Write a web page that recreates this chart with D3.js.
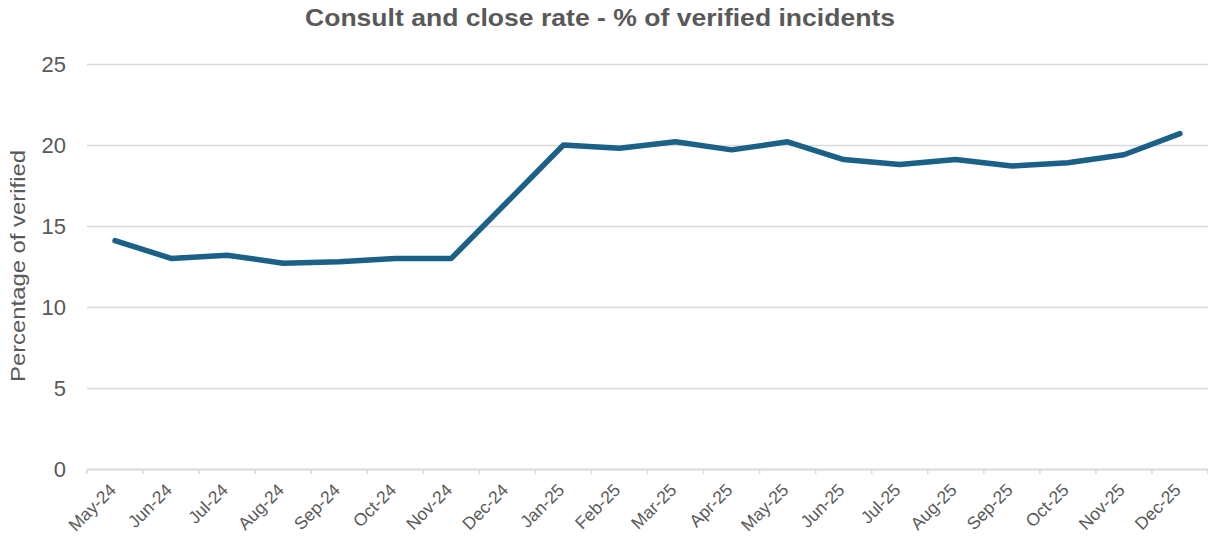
<!DOCTYPE html>
<html lang="en">
<head>
    <meta charset="UTF-8">
    <title>Consult and close rate</title>
    <style>
        body { margin: 0; background: #fff; }
        text { font-family: "Liberation Sans", Arial, sans-serif; fill: #595959; }
        .grid line { stroke: #d9d9d9; stroke-width: 1.3; }
        .grid path { display: none; }
    </style>
    <script src="https://cdn.jsdelivr.net/npm/d3@7/dist/d3.min.js"></script>
</head>
<body>
<svg class="chart" width="1208" height="539"></svg>
<script>
    const months = ['May-24', 'Jun-24', 'Jul-24', 'Aug-24', 'Sep-24', 'Oct-24', 'Nov-24', 'Dec-24',
        'Jan-25', 'Feb-25', 'Mar-25', 'Apr-25', 'May-25', 'Jun-25', 'Jul-25', 'Aug-25',
        'Sep-25', 'Oct-25', 'Nov-25', 'Dec-25'];
    const rate = [14.1, 13.0, 13.2, 12.7, 12.8, 13.0, 13.0, 16.5,
        20.0, 19.8, 20.2, 19.7, 20.2, 19.1, 18.8, 19.1,
        18.7, 18.9, 19.4, 20.7];
    const yTicks = [0, 5, 10, 15, 20, 25];

    const width = 1208, height = 539,
        padding = {top: 64, right: 0, bottom: 70, left: 87};

    const svg = d3.select('.chart');

    // scales
    let x = d3.scaleBand().domain(months).range([padding.left, width - padding.right]),
        y = d3.scaleLinear().domain([0, 25]).range([height - padding.bottom, padding.top]);

    // gridlines
    svg.append('g')
        .attr('class', 'grid')
        .attr('transform', 'translate(' + padding.left + ',0)')
        .call(d3.axisLeft(y).tickValues(yTicks.slice(1)).tickSize(-(width - padding.left - padding.right)).tickFormat(''));

    // y tick labels
    svg.append('g')
        .selectAll('text')
        .data(yTicks).enter().append('text')
        .attr('x', 66)
        .attr('y', d => y(d))
        .attr('dy', '0.36em')
        .attr('text-anchor', 'end')
        .style('font-size', '22px')
        .text(d => d);

    // x axis
    let xAxis = svg.append('g')
        .attr('transform', 'translate(0,' + y(0) + ')')
        .call(d3.axisBottom(x).tickSizeOuter(0).tickSizeInner(0).tickPadding(0));
    xAxis.select('.domain').attr('stroke', '#d9d9d9').attr('stroke-width', 2);
    xAxis.selectAll('.tick line').remove();
    // tick marks between categories
    let edges = months.map(m => x(m)).concat([x(months[months.length - 1]) + x.bandwidth()]);
    xAxis.selectAll('.edge')
        .data(edges).enter().append('line')
        .attr('x1', d => d).attr('x2', d => d)
        .attr('y1', 0).attr('y2', 5)
        .attr('stroke', '#d9d9d9').attr('stroke-width', 1.5);
    xAxis.selectAll('.tick text')
        .attr('fill', '#595959')
        .style('font-size', '17.5px')
        .style('font-family', '"Liberation Sans", Arial, sans-serif')
        .attr('text-anchor', 'end')
        .attr('dy', null)
        .attr('transform', 'translate(2,22) rotate(-45)');

    // line
    let line = d3.line()
        .x((d, i) => x(months[i]) + x.bandwidth() / 2)
        .y(d => y(d));

    svg.append('path')
        .datum(rate)
        .attr('d', line)
        .attr('fill', 'none')
        .attr('stroke', '#1b6086')
        .attr('stroke-width', 5.5)
        .attr('stroke-linejoin', 'round')
        .attr('stroke-linecap', 'round');

    // title
    svg.append('text')
        .attr('x', 600)
        .attr('y', 26)
        .attr('text-anchor', 'middle')
        .attr('textLength', 590)
        .attr('lengthAdjust', 'spacingAndGlyphs')
        .style('font-size', '24px')
        .style('font-weight', 'bold')
        .text('Consult and close rate - % of verified incidents');

    // y label
    svg.append('text')
        .attr('transform', 'translate(25,' + 266 + ') rotate(-90)')
        .attr('text-anchor', 'middle')
        .attr('textLength', 232)
        .attr('lengthAdjust', 'spacingAndGlyphs')
        .style('font-size', '20px')
        .text('Percentage of verified');
</script>
</body>
</html>
